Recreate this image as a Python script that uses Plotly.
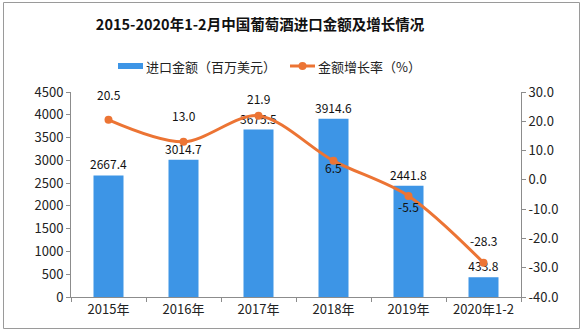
import plotly.graph_objects as go

# Wine import value (million USD) and year-on-year growth (%)
categories = ["2015年", "2016年", "2017年", "2018年", "2019年", "2020年1-2"]
import_value = [2667.4, 3014.7, 3675.5, 3914.6, 2441.8, 433.8]
growth_rate = [20.5, 13.0, 21.9, 6.5, -5.5, -28.3]

# Vertical offsets (px) for the growth-rate labels
growth_label_shift = [25, 26, 17, -7, -11, 22]

left_ticks = list(range(0, 4501, 500))
right_ticks = list(range(-40, 31, 10))

BAR_COLOR = "#3d95e6"
LINE_COLOR = "#ec7434"
AXIS_COLOR = "#8c8c8c"
FONT = "Noto Sans CJK SC"

# Plot area in pixels (584 x 331 canvas)
L, R, T, B = 71, 63, 92, 34
W, H = 584, 331
PW, PH = W - L - R, H - T - B


def px_x(x):
    return (x - L) / PW


def px_y(y):
    return (H - B - y) / PH


fig = go.Figure()

fig.add_trace(go.Bar(
    x=categories, y=import_value, name="进口金额（百万美元）",
    marker=dict(color=BAR_COLOR, line=dict(width=0)),
    width=0.4,
    text=[f"{v:.1f}" for v in import_value], textposition="outside",
    constraintext="none",
    textfont=dict(family=FONT, size=12, color="#111"),
    cliponaxis=False, showlegend=False,
))

fig.add_trace(go.Scatter(
    x=categories, y=growth_rate, name="金额增长率（%）", yaxis="y2",
    mode="lines+markers",
    line=dict(color=LINE_COLOR, width=3, shape="spline", smoothing=0.9),
    marker=dict(color=LINE_COLOR, size=8),
    cliponaxis=False, showlegend=False,
))

annotations = []
for c, g, s in zip(categories, growth_rate, growth_label_shift):
    annotations.append(dict(
        x=c, y=g, xref="x", yref="y2", text=f"{g:.1f}", showarrow=False,
        yshift=s, font=dict(family=FONT, size=12, color="#111"),
    ))

# Hand-built legend row
legend_y = px_y(66)
annotations += [
    dict(x=px_x(144), y=legend_y, xref="paper", yref="paper", xanchor="left",
         yanchor="middle", text="进口金额（百万美元）", showarrow=False,
         font=dict(family=FONT, size=13, color="#222")),
    dict(x=px_x(316), y=legend_y, xref="paper", yref="paper", xanchor="left",
         yanchor="middle", text="金额增长率（%）", showarrow=False,
         font=dict(family=FONT, size=13, color="#222")),
]

shapes = [
    dict(type="rect", xref="paper", yref="paper",
         x0=px_x(118), x1=px_x(143), y0=px_y(69), y1=px_y(63),
         fillcolor=BAR_COLOR, line=dict(width=0)),
    dict(type="line", xref="paper", yref="paper",
         x0=px_x(290), x1=px_x(315), y0=legend_y, y1=legend_y,
         line=dict(color=LINE_COLOR, width=3)),
    dict(type="circle", xref="paper", yref="paper",
         x0=px_x(298.5), x1=px_x(306.5), y0=px_y(70), y1=px_y(62),
         fillcolor=LINE_COLOR, line=dict(width=0)),
    # outer frame
    dict(type="rect", xref="paper", yref="paper",
         x0=px_x(3.5), x1=px_x(579.5), y0=px_y(328.5), y1=px_y(2.5),
         line=dict(color="#9a9a9a", width=1), fillcolor="rgba(0,0,0,0)",
         layer="below"),
]

fig.update_layout(
    width=W, height=H,
    margin=dict(l=L, r=R, t=T, b=B),
    paper_bgcolor="white", plot_bgcolor="white",
    title=dict(text="2015-2020年1-2月中国葡萄酒进口金额及增长情况",
               x=260 / W, xanchor="center", y=1 - 25 / H, yanchor="middle",
               font=dict(family=FONT, size=14.5, color="#111", weight="bold")),
    font=dict(family=FONT, size=13, color="#222"),
    bargap=0.6,
    xaxis=dict(
        type="category", showgrid=False, showline=True, linecolor=AXIS_COLOR,
        linewidth=1, ticks="outside", tickson="boundaries", ticklen=4,
        tickcolor=AXIS_COLOR, tickfont=dict(family=FONT, size=13, color="#222"),
    ),
    yaxis=dict(
        range=[0, 4500], tickvals=left_ticks, showgrid=False, zeroline=False,
        showline=True, linecolor=AXIS_COLOR, ticks="outside", ticklen=4,
        tickcolor=AXIS_COLOR, tickfont=dict(family=FONT, size=13, color="#222"),
    ),
    yaxis2=dict(
        range=[-40, 30], overlaying="y", side="right",
        tickvals=right_ticks,
        ticktext=[f"{v:.1f}" for v in right_ticks],
        showgrid=False, zeroline=False, showline=True, linecolor=AXIS_COLOR,
        ticks="outside", ticklen=4, tickcolor=AXIS_COLOR,
        tickfont=dict(family=FONT, size=13, color="#222"),
    ),
    annotations=annotations, shapes=shapes,
)

fig.write_html("out.html")
